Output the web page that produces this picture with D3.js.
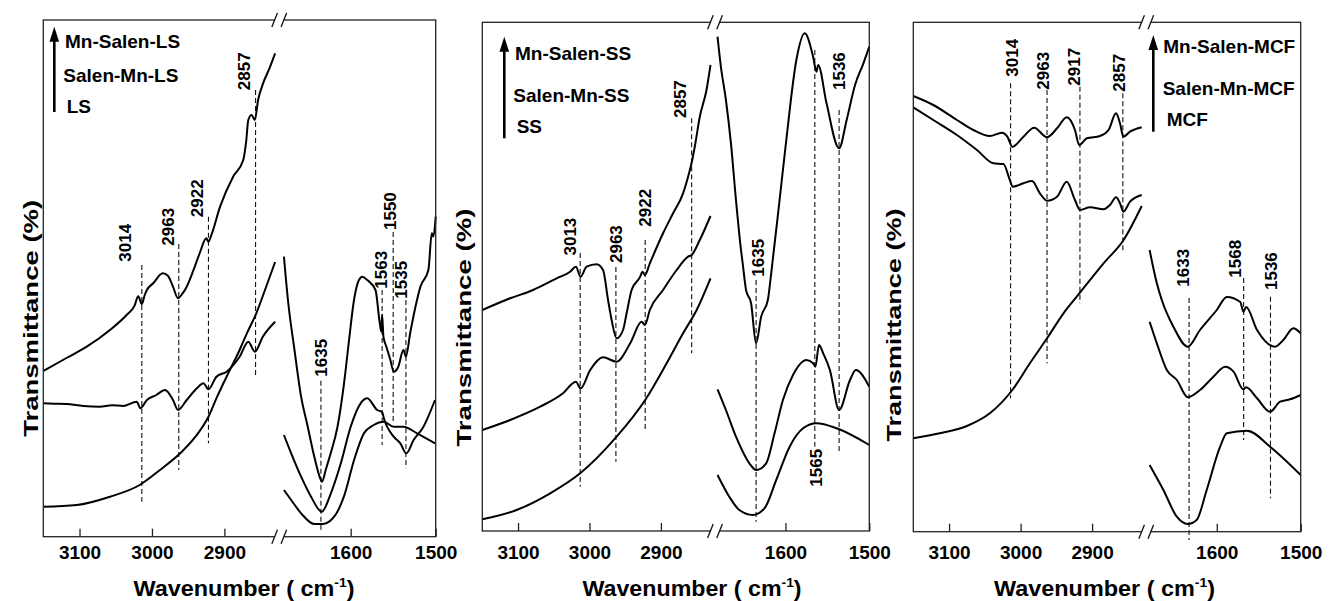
<!DOCTYPE html>
<html><head><meta charset="utf-8">
<script src="https://cdn.jsdelivr.net/npm/d3@7"></script>
<style>
body{margin:0;background:#fff}
svg{display:block}
text{font-family:Arial,"Liberation Sans",Helvetica,sans-serif;fill:#000}
</style>
</head><body>
<svg id="chart" width="1330" height="601"></svg>
<script>
// ---------------- DATA (wavenumber cm-1, transmittance a.u.) ----------------
const tickLeft = [3100, 3000, 2900];
const tickRight = [1600, 1500];
const domainLeft = [3150, 2825];
const domainRight = [1680, 1500];

// Panel 1 : LS
const mnSalenLS = [[3150,165.7],[3118,178.7],[3090,190],[3058,206.7],[3035,221.7],[3024,231],[3019,240.5],[3014,232.7],[3010,241.7],[3007,246.7],[2998,253.7],[2985,263.4],[2978,261],[2971,250],[2964,238.4],[2958,243],[2952,250],[2943,266],[2934,283.7],[2925,298.4],[2922,295],[2918,301.7],[2906,330],[2888,360],[2874,376.7],[2870,395],[2867,416.7],[2862.5,421.7],[2858,416.7],[2853.5,436.7],[2846.6,453.4],[2838,468],[2830,483.4],
  [1678.5,280],[1673.8,236.7],[1666.1,186.7],[1658.3,140],[1650.5,110],[1642.8,80],[1635,56.7],[1633.8,55],[1629,68],[1623.5,83.4],[1615.5,110],[1607.8,153.4],[1601.9,196.7],[1596.1,236.7],[1590.3,256.7],[1586.3,260],[1580.5,256.7],[1570.8,246.7],[1566,215],[1564,205],[1563,222],[1561.5,200],[1558,190],[1553.3,176.7],[1549.4,165],[1544,170],[1538,186.7],[1535,180],[1530,203.7],[1522,236.7],[1518,250],[1508.6,266.7],[1504.6,303.4],[1502.7,300],[1500,320]];
const salenMnLS = [[3150,133.4],[3135,133],[3118,132.7],[3095,130.7],[3072,130],[3055,131.5],[3040,130.7],[3021,135],[3016,128.4],[3007,136.7],[2994,141.7],[2982,146.7],[2971,136.7],[2964,126.7],[2952,136.7],[2938,148.4],[2929,153.4],[2922,147.4],[2911,160],[2897,165],[2879,180],[2867,195],[2858,185],[2847,200],[2830,215],
  [1678.5,101.7],[1670,83.4],[1658.3,60],[1646.6,40],[1634,25],[1623.3,43.4],[1611.6,73.4],[1600,110],[1588.3,133.4],[1580.5,138.4],[1568.8,126.7],[1563,124.7],[1561,118.4],[1549.4,100],[1541.6,93.4],[1534.6,83.4],[1526,96.7],[1514.4,110],[1500.8,136.7]];
const LS = [[3150,30],[3104,31.7],[3058,40],[3017,51.7],[2989,66.7],[2961,83.4],[2940,100],[2922,120],[2910,140],[2897,160],[2879,186.7],[2869,203.4],[2856,223.4],[2842,250.7],[2830,274.7],
  [1678.5,46.7],[1670,36.7],[1658.3,23.4],[1643,12.7],[1633,12.7],[1619.4,20],[1608,40],[1596,76.7],[1584.4,103.4],[1573,111.7],[1561,115],[1549.4,110],[1538,110],[1522,103.4],[1500.8,93.4]];

// Panel 2 : SS
const mnSalenSS = [[3150,221],[3111,232.7],[3079,241],[3046,252.7],[3027,259.3],[3019,264.3],[3012.4,254.3],[3004,264.3],[2990,266.7],[2981,261],[2974,231],[2969,211],[2962,192.7],[2953,201],[2948,217.7],[2941,241],[2929,254.3],[2926,259.3],[2922.4,256],[2915.5,267.7],[2897,297.7],[2883,317.7],[2869,337.7],[2859.5,361],[2857.2,367.7],[2852.6,384.3],[2845.6,414.3],[2836.2,441],[2830.6,466],
  [1681,494.3],[1677,464.3],[1671,431],[1665,387.7],[1659,331],[1653,281],[1651,267.7],[1647,241],[1641,227.7],[1635,187.7],[1629,214.3],[1621,231],[1617,257.7],[1607,331],[1599,391],[1587,471],[1577,497.7],[1567,474.3],[1563,459.3],[1561,466],[1551,427.7],[1536,382.7],[1527,411],[1517,446],[1507,467.7],[1500,484.3]];
const salenMnSS = [[3150,101],[3111,111],[3069,124.3],[3037,137.7],[3019,149.3],[3012.4,142.7],[2999,161],[2981,173.7],[2962,169.3],[2943,187.7],[2927,209.3],[2922.4,206],[2915.5,221],[2897,241],[2878,261],[2862,274.3],[2857,276],[2845.6,291],[2830.6,315],
  [1681,141.7],[1671,121],[1659,94.3],[1643,67.7],[1635,61],[1623,67.7],[1613,97.7],[1603,131],[1591,156],[1575,171],[1567,167.7],[1564.3,164.3],[1560,186],[1555,177.7],[1547,161],[1536,121],[1523,151],[1516,161],[1500,144.3]];
const SS = [[3150,11.7],[3102,21],[3055,37.7],[3013,57.7],[2962,94.3],[2922,131],[2892,167.7],[2869,197.7],[2850,221],[2830.6,252.7],
  [1681,56],[1667,34.3],[1655,21],[1639,16],[1625,22.7],[1611,51],[1595,84.3],[1579,102.7],[1563,107.7],[1539,102.7],[1500,86]];

// Panel 3 : MCF
const mnSalenMCF = [[3150,435.7],[3122,426.7],[3089,411.7],[3066,401.7],[3043,395.7],[3026,399],[3018.5,395],[3011.5,385],[2996,395],[2981,404],[2963,394.4],[2949,403.4],[2935.5,414.4],[2924,401.7],[2918,386.7],[2907.5,393.4],[2889,395.7],[2877,401.7],[2866.5,418.4],[2861,408.4],[2856.3,395],[2847,400],[2830.6,404.4],
  [1680,281.7],[1671.4,248.4],[1665.5,231.7],[1651.7,205],[1634.5,185],[1620,201.7],[1600,221.7],[1588,234.7],[1572,229.7],[1568.3,220],[1565,224.7],[1552,201.7],[1530.6,185],[1520.7,191.7],[1508.8,203.4],[1500,198.4]];
const salenMnMCF = [[3150,424.4],[3122,411.7],[3089,396.7],[3061,381.7],[3038,368.4],[3024,367.7],[3015,351.7],[3011,345],[2996,348.4],[2984,350.7],[2973,338.4],[2963,331],[2949,335],[2935.5,350],[2924,331.7],[2917,321.7],[2903,324.4],[2884,322.4],[2875,326.7],[2866.5,334.4],[2861,328.4],[2856.3,320],[2847,330],[2830.6,336.7],
  [1680,210],[1671.4,188.4],[1659.5,161.7],[1647.6,151.7],[1634.5,134.4],[1620,141.7],[1604,155],[1590,165],[1580,160],[1568.3,142.4],[1565,144.4],[1552,133.4],[1536.5,120],[1524.6,130],[1512.7,132.4],[1500,136.7]];
const MCF = [[3150,93.4],[3113,98.4],[3075,105.7],[3043,118.4],[3011.5,141.7],[2987,168.4],[2963,193.4],[2940,218.4],[2921.5,235],[2884,268.4],[2856,291.7],[2830.6,325.7],
  [1680,66.7],[1663.6,41.7],[1647.6,15],[1634.5,7.7],[1624,11.7],[1612,41.7],[1596,85],[1588,98.4],[1564,101],[1536.5,85],[1500,56.7]];

// legend labels (top to bottom)
const legendLS = ["Mn-Salen-LS", "Salen-Mn-LS", "LS"];
const legendSS = ["Mn-Salen-SS", "Salen-Mn-SS", "SS"];
const legendMCF = ["Mn-Salen-MCF", "Salen-Mn-MCF", "MCF"];

// peak markers: [wavenumber, dashed top, dashed bottom, label start] (a.u.)
const peaksLS = [[3014,271.7,35,275],[2963,292.7,66.7,291],[2922,320,93.4,319.5],[2857,446.7,161.7,446.5],[1635,156,6.7,160],[1563,246.7,91.7,248],[1550,304.7,115,306.7],[1535,236.7,68.4,238]];
const peaksSS = [[3013,278,44.3,275.5],[2963,264,69.3,268],[2922,291,101,304.3],[2857,412.7,177.7,413],[1635,251,9.3,254.3],[1565,481,84.3,44.3],[1536,421,77.7,441]];
const peaksMCF = [[3014,448.4,133.4,455],[2963,441.7,168.4,442],[2917,445,228.4,446],[2857,438.4,278.4,440],[1633,233.7,-8.3,245],[1568,253.7,91.7,254],[1536,235,33.4,241.7]];

const xTitle = "Wavenumber ( cm";
const yTitle = "Transmittance (%)";

// ---------------- LAYOUT ----------------
const panels = [
  {x0:43.3, y0:20, x1:435.7, y1:536.7, yMax:516.7, series:[mnSalenLS,salenMnLS,LS], legend:legendLS, peaks:peaksLS,
   labelDx:[-17.4,-10.7,-11.6,-12,0,-1,-3.3,-5],
   leg:{ax:54.3, tip:26.7, bot:112, tx:[65,63.3,66.7], ty:[48,82,112.5]},
   yT:{x:37.5, cy:318.3, len:237}, xT:{cx:244, len:221}},
  {x0:482.3, y0:22.3, x1:869.3, y1:531, yMax:508.7, series:[mnSalenSS,salenMnSS,SS], legend:legendSS, peaks:peaksSS,
   labelDx:[-9.9,0,0,-11.4,1.7,1,0],
   leg:{ax:504.3, tip:36.7, bot:138.3, tx:[515,513.3,516.7], ty:[60,101.5,133]},
   yT:{x:470.6, cy:327.5, len:238}, xT:{cx:692, len:219}},
  {x0:913.3, y0:22.3, x1:1300.7, y1:531.7, yMax:509.4, series:[mnSalenMCF,salenMnMCF,MCF], legend:legendMCF, peaks:peaksMCF,
   labelDx:[1.5,-4,-5.8,-3.5,-6,-9,0],
   leg:{ax:1153.3, tip:35, bot:131.7, tx:[1163.3,1162.7,1166.7], ty:[53.3,95,126]},
   yT:{x:901.3, cy:325, len:233}, xT:{cx:1104.5, len:221}}
];

const svg = d3.select("#chart");

panels.forEach(p => {
  const W = p.x1 - p.x0;
  const xL = d3.scaleLinear().domain(domainLeft).range([p.x0, p.x0 + 0.6 * W]);
  const xR = d3.scaleLinear().domain(domainRight).range([p.x0 + 0.61 * W, p.x1]);
  const xOf = wn => wn > 2000 ? xL(wn) : xR(wn);
  const y = d3.scaleLinear().domain([0, p.yMax]).range([p.y1, p.y0]);
  const g = svg.append("g");

  // dashed peak markers
  p.peaks.forEach((pk, i) => {
    const x = xOf(pk[0]);
    g.append("line").attr("x1", x).attr("x2", x).attr("y1", y(pk[1])).attr("y2", y(pk[2]))
      .attr("stroke", "#111").attr("stroke-width", 1.1).attr("stroke-dasharray", "5,3");
    g.append("text").attr("transform", `translate(${x + p.labelDx[i]},${y(pk[3])}) rotate(-90)`)
      .attr("dy", "0.36em").attr("text-anchor", "start")
      .attr("font-size", 17).attr("font-weight", "bold").text(pk[0]);
  });

  // curves
  const line = d3.line().x(d => xOf(d[0])).y(d => y(d[1])).curve(d3.curveMonotoneX);
  p.series.forEach(s => {
    [s.filter(d => d[0] > 2000), s.filter(d => d[0] < 2000)].forEach(seg => {
      g.append("path").attr("d", line(seg)).attr("fill", "none")
        .attr("stroke", "#000").attr("stroke-width", 2).attr("stroke-linejoin", "round");
    });
  });

  // frame
  g.append("rect").attr("x", p.x0).attr("y", p.y0).attr("width", W).attr("height", p.y1 - p.y0)
    .attr("fill", "none").attr("stroke", "#222").attr("stroke-width", 1.3);

  // axis ticks (inward) and labels
  const pad = 559 - p.y1 - 13.5;
  [[xL, tickLeft], [xR, tickRight]].forEach(([sc, tv]) => {
    const ax = g.append("g").attr("transform", `translate(0,${p.y1})`)
      .call(d3.axisBottom(sc).tickValues(tv).tickSize(-8).tickPadding(pad).tickFormat(d3.format("d")));
    ax.select(".domain").remove();
    ax.selectAll(".tick line").attr("stroke", "#222").attr("stroke-width", 1.3);
    ax.selectAll(".tick text").attr("font-size", 19).attr("font-weight", "bold")
      .attr("font-family", "Arial, 'Liberation Sans', sans-serif").attr("fill", "#000");
  });

  // axis break marks
  const bx = p.x0 + 0.6 * W + 0.5;
  [p.y0, p.y1].forEach(yy => {
    g.append("rect").attr("x", bx - 4.6).attr("y", yy - 2).attr("width", 9.2).attr("height", 4).attr("fill", "#fff");
    [-4.6, 4.6].forEach(o => {
      g.append("line").attr("x1", bx + o - 2.8).attr("y1", yy + 7).attr("x2", bx + o + 2.8).attr("y2", yy - 7)
        .attr("stroke", "#111").attr("stroke-width", 1.3);
    });
  });

  // legend arrow + labels
  const L = p.leg;
  g.append("line").attr("x1", L.ax).attr("x2", L.ax).attr("y1", L.bot).attr("y2", L.tip + 12)
    .attr("stroke", "#000").attr("stroke-width", 2.6);
  g.append("path").attr("d", `M${L.ax},${L.tip} L${L.ax - 4.8},${L.tip + 15} L${L.ax + 4.8},${L.tip + 15} Z`).attr("fill", "#000");
  p.legend.forEach((t, i) => {
    g.append("text").attr("x", L.tx[i]).attr("y", L.ty[i]).attr("font-size", 19).attr("font-weight", "bold").text(t);
  });

  // axis titles
  g.append("text").attr("transform", `translate(${p.yT.x},${p.yT.cy}) rotate(-90)`)
    .attr("text-anchor", "middle").attr("font-size", 20).attr("font-weight", "bold")
    .attr("textLength", p.yT.len).attr("lengthAdjust", "spacingAndGlyphs").text(yTitle);
  const xt = g.append("text").attr("x", p.xT.cx).attr("y", 596).attr("text-anchor", "middle")
    .attr("font-size", 22).attr("font-weight", "bold")
    .attr("textLength", p.xT.len).attr("lengthAdjust", "spacingAndGlyphs");
  xt.append("tspan").text(xTitle);
  xt.append("tspan").attr("font-size", 13).attr("dy", -9).text("-1");
  xt.append("tspan").attr("dy", 9).text(")");
});
</script>
</body></html>
